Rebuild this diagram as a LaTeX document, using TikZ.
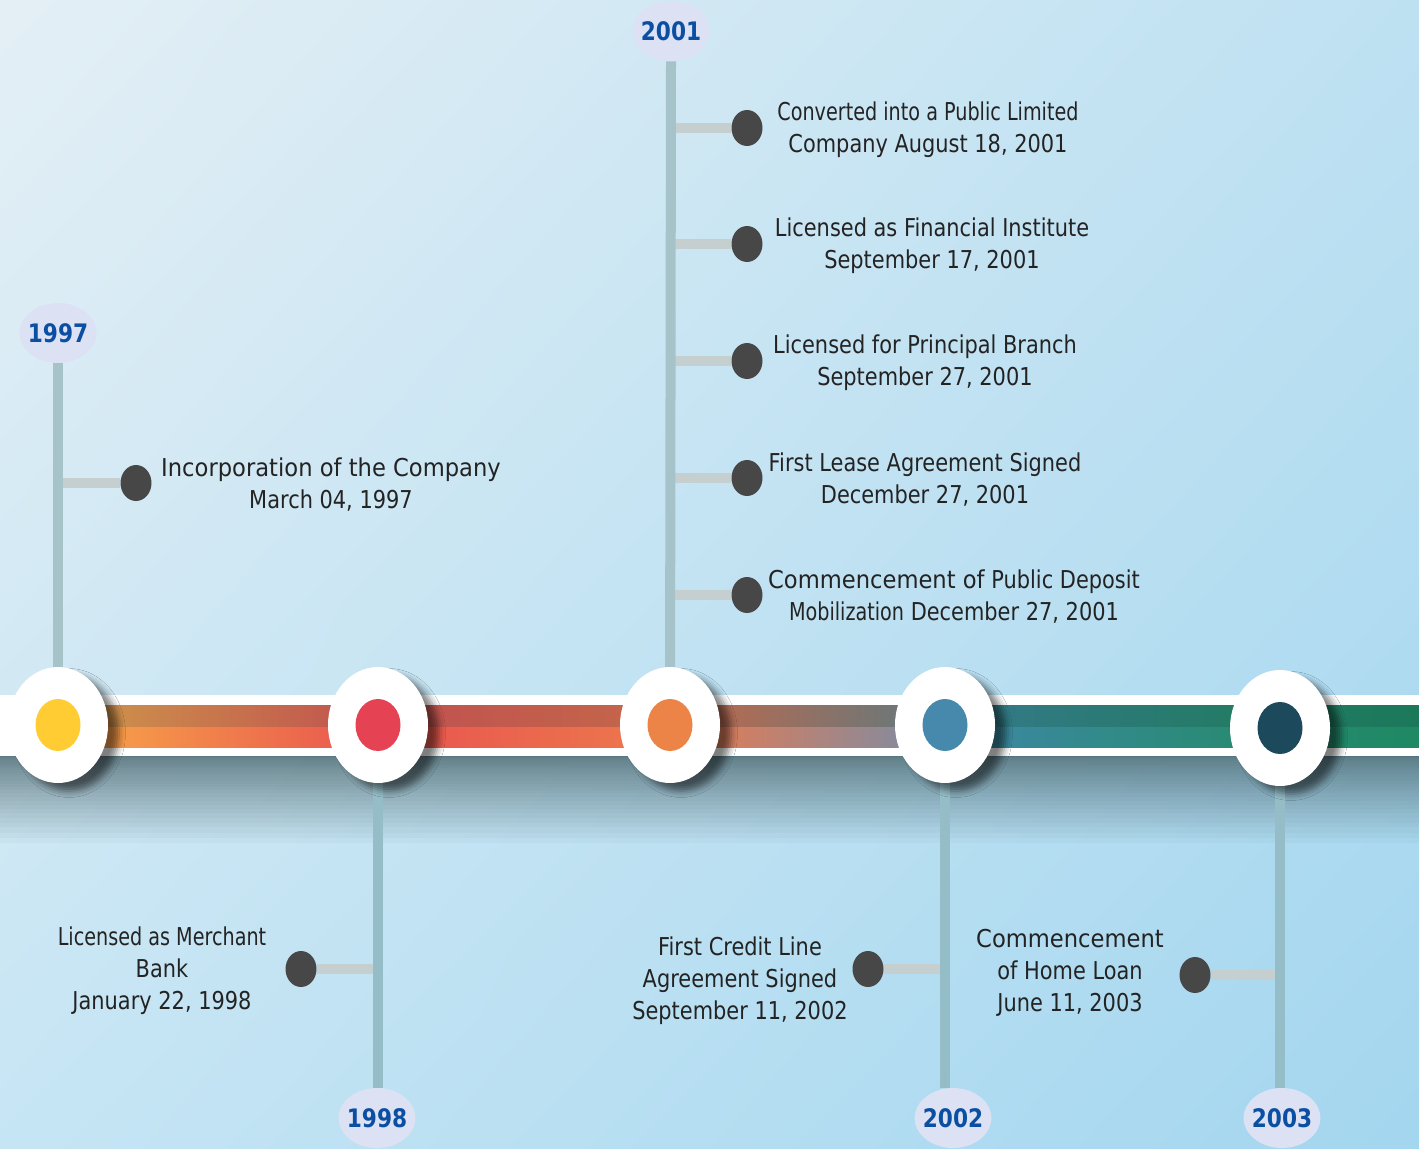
\documentclass[tikz,border=0pt]{standalone}
\usepackage{fontspec}
\setmainfont{DejaVu Sans}[FakeStretch=0.85]
\newfontfamily\widefont{DejaVu Sans}[FakeStretch=0.92]
\newfontfamily\narrowfont{DejaVu Sans}[FakeStretch=0.78]
\usetikzlibrary{shapes.geometric,shadows.blur,shadings}

\definecolor{bgTL}{HTML}{E4EFF5}
\definecolor{bgTR}{HTML}{BEE1F2}
\definecolor{bgBL}{HTML}{C6E5F4}
\definecolor{bgBR}{HTML}{A3D6EF}
\definecolor{yearblue}{HTML}{0B4FA3}
\definecolor{yearfill}{HTML}{DCE1F4}
\definecolor{stemcol}{HTML}{A7C3CA}
\definecolor{stemlow}{HTML}{94BDC8}
\definecolor{armcol}{HTML}{C6CFCF}
\definecolor{dotcol}{HTML}{474747}
\definecolor{textcol}{HTML}{232323}
\definecolor{barshade}{HTML}{3E5A60}
% hub colours
\definecolor{hubyellow}{HTML}{FFCC33}
\definecolor{hubred}{HTML}{E54353}
\definecolor{huborange}{HTML}{EC8447}
\definecolor{hubblue}{HTML}{4689AC}
\definecolor{hubteal}{HTML}{1C4A5C}
% bar colours, top stripe and bottom stripe
\definecolor{ta}{HTML}{CF9A4A}\definecolor{ba}{HTML}{F9AA48}
\definecolor{tb}{HTML}{C0504F}\definecolor{bb}{HTML}{E8534F}
\definecolor{tc}{HTML}{C4684A}\definecolor{bc}{HTML}{ED7A4C}
\definecolor{td}{HTML}{6E7777}\definecolor{bd}{HTML}{8A8A9A}
\definecolor{te}{HTML}{35798B}\definecolor{be}{HTML}{3E89A6}
\definecolor{tf}{HTML}{247B66}\definecolor{bf}{HTML}{298A74}
\definecolor{tg}{HTML}{1B795A}\definecolor{bgr}{HTML}{1E8963}

\pgfdeclarehorizontalshading{bartop}{100bp}{color(0bp)=(ta); color(25bp)=(ta);
  color(36.8bp)=(tb); color(47.5bp)=(tc); color(55.9bp)=(td); color(57.6bp)=(te);
  color(68bp)=(tf); color(75bp)=(tg); color(100bp)=(tg)}
\pgfdeclarehorizontalshading{barbot}{100bp}{color(0bp)=(ba); color(25bp)=(ba);
  color(36.8bp)=(bb); color(47.5bp)=(bc); color(55.9bp)=(bd); color(57.6bp)=(be);
  color(68bp)=(bf); color(75bp)=(bgr); color(100bp)=(bgr)}

\tikzset{
  yearlbl/.style={ellipse, fill=yearfill, minimum width=15.2mm, minimum height=12mm,
    inner sep=-0.6mm, text=yearblue, font=\bfseries\fontsize{14.5}{16}\selectfont},
  hub/.style={ellipse, fill=white, minimum width=20mm, minimum height=23.2mm, inner sep=0pt,
    blur shadow={shadow xshift=2.2mm, shadow yshift=-1.6mm, shadow blur radius=1.3mm,
    shadow opacity=50}},
  core/.style={ellipse, minimum width=9mm, minimum height=10.4mm, inner sep=0pt},
  dot/.style={ellipse, fill=dotcol, minimum width=6.2mm, minimum height=7.2mm, inner sep=0pt},
  evt/.style={align=center, text=textcol, inner sep=0pt, font=\fontsize{14}{18.2}\selectfont},
  stem/.style={draw=stemcol, line width=2mm},
  arm/.style={draw=armcol, line width=2mm}
}

\begin{document}
\begin{tikzpicture}[x=0.2mm,y=-0.2mm]
  \useasboundingbox (0,0) rectangle (1419,1149);
  \clip (0,0) rectangle (1419,1149);

  %%%%%%%%%%%%%%%%%%%%%%%%%%%%%%%%%%%%%%%%%%
  %%% Background and the main bar
  %%%%%%%%%%%%%%%%%%%%%%%%%%%%%%%%%%%%%%%%%%
  \shade[upper left=bgTL, upper right=bgTR, lower left=bgBL, lower right=bgBR]
    (0,0) rectangle (1419,1149);
  % shadow under the bar, built up from thin layers
  \foreach \k in {1,...,32}
    \fill[barshade, opacity=0.038] (0,756) rectangle (1419,756+0.085*\k*\k);
  \fill[white] (0,695) rectangle (1419,756);
  \shade[shading=bartop] (58,705) rectangle (1419,727);
  \shade[shading=barbot] (58,727) rectangle (1419,747);

  % centres of the year hubs
  \coordinate (c1997) at (58,725);
  \coordinate (c1998) at (378,725);
  \coordinate (c2001) at (670,725);
  \coordinate (c2002) at (945,725);
  \coordinate (c2003) at (1280,728);

  % year labels
  \node[yearlbl] (y1997) at (58,333) {1997};
  \node[yearlbl] (y2001) at (671,31) {2001};
  \node[yearlbl] (y1998) at (377,1118) {1998};
  \node[yearlbl] (y2002) at (953,1118) {2002};
  \node[yearlbl] (y2003) at (1282,1118) {2003};

  %%%%%%%%%%%%%%%%%%%%%%%%%%%%%%%%%%%%%%%%%%
  %%% Events above the bar
  %%%%%%%%%%%%%%%%%%%%%%%%%%%%%%%%%%%%%%%%%%
  \node[dot] (d1997) at (136,483) {};
  \node[evt] (t1997) at (331,485) {{\widefont Incorporation of the Company}\\March 04, 1997};
  \draw[arm] (c1997 |- d1997) -- (d1997.west);

  \foreach \i/\yy/\cx/\txt in {1/128/928/{{\narrowfont Converted into a Public Limited}\\Company August 18, 2001},
      2/244/932/{Licensed as Financial Institute\\September 17, 2001},
      3/361/925/{Licensed for Principal Branch\\September 27, 2001},
      4/478/925/{First Lease Agreement Signed\\December 27, 2001},
      5/595/954/{{\widefont Commencement of} Public Deposit\\{\narrowfont Mobilization} December 27, 2001}}
  {
    \node[dot] (d2001-\i) at (747,\yy) {};
    \node[evt] (t2001-\i) at (\cx,\yy+2) {\txt};
    \draw[arm] (c2001 |- d2001-\i) -- (d2001-\i.west);
  }

  %%%%%%%%%%%%%%%%%%%%%%%%%%%%%%%%%%%%%%%%%%
  %%% Events below the bar
  %%%%%%%%%%%%%%%%%%%%%%%%%%%%%%%%%%%%%%%%%%
  \node[dot] (d1998) at (301,969) {};
  \node[evt] (t1998) at (162,971) {{\narrowfont Licensed as Merchant}\\Bank\\January 22, 1998};
  \draw[arm] (d1998.east) -- (c1998 |- d1998);

  \node[dot] (d2002) at (868,969) {};
  \node[evt] (t2002) at (740,981) {First Credit Line\\Agreement Signed\\September 11, 2002};
  \draw[arm] (d2002.east) -- (c2002 |- d2002);

  \node[dot] (d2003) at (1195,975) {};
  \node[evt] (t2003) at (1070,973) {{\widefont Commencement}\\of Home Loan\\June 11, 2003};
  \draw[arm] (d2003.east) -- (c2003 |- d2003);

  % stems from the year labels to the hubs
  \draw[stem] (y1997.south) -- (c1997);
  \draw[stem] (y2001.south) -- (c2001);
  \draw[stem, draw=stemlow] (c1998) -- (y1998.north -| c1998);
  \draw[stem, draw=stemlow] (c2002) -- (y2002.north -| c2002);
  \draw[stem, draw=stemlow] (c2003) -- (y2003.north -| c2003);

  % the hubs on the bar
  \foreach \yr/\col in {1997/hubyellow, 1998/hubred, 2001/huborange, 2002/hubblue, 2003/hubteal}
  {
    \node[hub] (h\yr) at (c\yr) {};
    \node[core, fill=\col] (k\yr) at (c\yr) {};
  }
\end{tikzpicture}
\end{document}
